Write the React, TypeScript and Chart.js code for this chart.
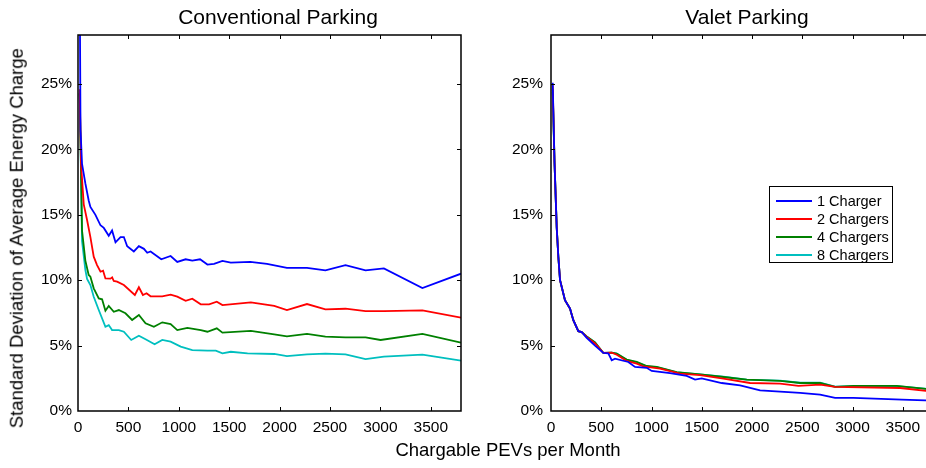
import React, { useEffect, useRef } from "react";
import { Chart, registerables } from "chart.js";

Chart.register(...registerables);

// ---------- data ----------
const xTicks = [0, 500, 1000, 1500, 2000, 2500, 3000, 3500];
const yTicks = [0, 5, 10, 15, 20, 25];
const xMax = 3800;
const yMax = 28.75;

const seriesNames = ["1 Charger", "2 Chargers", "4 Chargers", "8 Chargers"];
const seriesColors = ["#0000ff", "#ff0000", "#008000", "#00bfbf"];

const panelTitles = ["Conventional Parking", "Valet Parking"];
const xAxisLabel = "Chargable PEVs per Month";
const yAxisLabel = "Standard Deviation of Average Energy Charge";

// Conventional parking (x: PEVs per month, y: %)
const convOne: [number, number][] = [
  [17, 33], [25, 21.5], [40, 18.9], [73, 17.4], [106, 16.1], [123, 15.6], [173, 15.0], [223, 14.2],
  [256, 14.0], [305, 13.4], [338, 13.8], [372, 12.9], [422, 13.3], [455, 13.3], [488, 12.6],
  [554, 12.2], [604, 12.6], [654, 12.4], [687, 12.1], [720, 12.2], [826, 11.6], [919, 11.85],
  [985, 11.4], [1068, 11.6], [1134, 11.5], [1211, 11.6], [1284, 11.2], [1350, 11.25], [1433, 11.47],
  [1516, 11.34], [1709, 11.4], [1875, 11.25], [2073, 10.95], [2272, 10.95], [2455, 10.75],
  [2654, 11.15], [2853, 10.75], [3035, 10.9], [3417, 9.4], [3800, 10.5],
];
const convTwo: [number, number][] = [
  [17, 24.6], [30, 18.9], [57, 15.8], [90, 14.6], [123, 13.3], [156, 11.8], [189, 11.16],
  [223, 10.65], [249, 10.73], [272, 10.14], [322, 10.12], [339, 10.22], [355, 9.94], [388, 9.89],
  [455, 9.63], [564, 8.87], [604, 9.46], [644, 8.87], [680, 9.0], [720, 8.77], [836, 8.77],
  [919, 8.9], [985, 8.74], [1068, 8.43], [1134, 8.59], [1218, 8.16], [1301, 8.16], [1377, 8.36],
  [1433, 8.1], [1715, 8.31], [1947, 8.03], [2073, 7.72], [2272, 8.18], [2455, 7.77], [2654, 7.82],
  [2853, 7.64], [3035, 7.64], [3417, 7.7], [3800, 7.14],
];
const convFour: [number, number][] = [
  [17, 24.3], [40, 13.8], [73, 11.5], [106, 10.4], [123, 10.27], [156, 9.38], [206, 8.61],
  [239, 8.54], [272, 7.67], [305, 8.03], [355, 7.59], [405, 7.72], [471, 7.47], [537, 6.96],
  [604, 7.34], [670, 6.7], [753, 6.44], [836, 6.78], [919, 6.65], [985, 6.19], [1085, 6.35],
  [1218, 6.19], [1284, 6.06], [1377, 6.32], [1433, 5.99], [1715, 6.12], [1947, 5.86],
  [2073, 5.71], [2272, 5.89], [2455, 5.68], [2654, 5.63], [2853, 5.63], [3002, 5.43],
  [3417, 5.89], [3800, 5.22],
];
const convEight: [number, number][] = [
  [17, 24.3], [40, 13.0], [73, 10.8], [90, 10.1], [123, 9.63], [156, 8.74], [206, 7.72],
  [272, 6.44], [305, 6.57], [338, 6.19], [405, 6.19], [455, 6.06], [528, 5.43], [604, 5.76],
  [670, 5.48], [760, 5.1], [836, 5.43], [919, 5.3], [1019, 4.92], [1134, 4.66], [1284, 4.61],
  [1367, 4.61], [1433, 4.41], [1516, 4.53], [1682, 4.41], [1947, 4.36], [2073, 4.2], [2272, 4.33],
  [2455, 4.38], [2654, 4.33], [2853, 3.97], [3035, 4.15], [3417, 4.31], [3800, 3.85],
];

// Valet parking
const valetOne: [number, number][] = [
  [17, 25.1], [35, 19], [57, 14], [73, 11.8], [90, 10.0], [139, 8.47], [189, 7.83], [222, 6.94],
  [272, 6.1], [305, 6.04], [355, 5.6], [438, 5.0], [521, 4.44], [570, 4.4], [604, 3.88],
  [637, 4.0], [769, 3.75], [836, 3.37], [952, 3.3], [1002, 3.06], [1184, 2.9], [1350, 2.68],
  [1433, 2.4], [1499, 2.5], [1698, 2.14], [1881, 1.96], [2080, 1.58], [2478, 1.38], [2677, 1.25],
  [2826, 1.0], [3008, 1.0], [3490, 0.87], [3800, 0.8],
];
const valetTwo: [number, number][] = [
  [17, 24.9], [35, 19], [57, 14], [73, 11.8], [90, 10.0], [139, 8.47], [189, 7.83], [222, 6.94],
  [272, 6.1], [305, 6.04], [355, 5.66], [438, 5.16], [521, 4.44], [604, 4.46], [654, 4.3],
  [753, 3.83], [853, 3.62], [919, 3.42], [1085, 3.24], [1284, 2.86], [1483, 2.74], [1715, 2.48],
  [1980, 2.14], [2279, 2.09], [2461, 1.92], [2677, 2.01], [2826, 1.84], [3473, 1.76], [3800, 1.48],
];
const valetFour: [number, number][] = [
  [17, 24.6], [35, 19], [57, 14], [73, 11.8], [90, 10.0], [139, 8.47], [189, 7.83], [222, 6.94],
  [272, 6.1], [305, 6.04], [355, 5.7], [438, 5.25], [521, 4.44], [604, 4.46], [654, 4.39],
  [753, 3.93], [853, 3.75], [952, 3.44], [1052, 3.37], [1251, 2.98], [1483, 2.8], [1715, 2.6],
  [1947, 2.4], [2279, 2.3], [2478, 2.14], [2677, 2.14], [2826, 1.84], [3008, 1.92], [3440, 1.92],
  [3800, 1.64],
];
const valetEight: [number, number][] = [
  [17, 24.4], [35, 19], [57, 14], [73, 11.8], [90, 10.0], [139, 8.47], [189, 7.83], [222, 6.94],
  [272, 6.1], [305, 6.04], [355, 5.7], [438, 5.25], [521, 4.44], [604, 4.46], [654, 4.39],
  [753, 3.9], [853, 3.72], [952, 3.42], [1052, 3.36], [1251, 2.96], [1483, 2.8], [1715, 2.62],
  [1947, 2.4], [2279, 2.32], [2478, 2.16], [2677, 2.16], [2826, 1.86], [3008, 1.9], [3440, 1.9],
  [3800, 1.66],
];

const convSeries = [convOne, convTwo, convFour, convEight];
const valetSeries = [valetOne, valetTwo, valetFour, valetEight];

// ---------- styling ----------
const FONT = "'Liberation Sans', Arial, Helvetica, sans-serif";

const frameTicksPlugin = {
  id: "frameTicks",
  afterDatasetsDraw(chart: any) {
    const { ctx, chartArea } = chart;
    const { left, right, top, bottom } = chartArea;
    const xs = chart.scales.x;
    const ys = chart.scales.y;
    const tl = 4;
    ctx.save();
    ctx.strokeStyle = "#000";
    ctx.lineWidth = 1.5;
    ctx.beginPath();
    ctx.rect(left, top, right - left, bottom - top);
    ctx.stroke();
    ctx.lineWidth = 1;
    ctx.beginPath();
    for (const v of xTicks) {
      if (v === 0) continue;
      const px = Math.round(xs.getPixelForValue(v)) + 0.5;
      ctx.moveTo(px, bottom);
      ctx.lineTo(px, bottom - tl);
      ctx.moveTo(px, top);
      ctx.lineTo(px, top + tl);
    }
    for (const v of yTicks) {
      if (v === 0) continue;
      const py = Math.round(ys.getPixelForValue(v)) + 0.5;
      ctx.moveTo(left, py);
      ctx.lineTo(left + tl, py);
      ctx.moveTo(right, py);
      ctx.lineTo(right - tl, py);
    }
    ctx.stroke();
    ctx.restore();
  },
};

function makeConfig(series: [number, number][][], yAxisWidth: number, padRight: number, yPad: number): any {
  return {
    type: "line",
    data: {
      datasets: series.map((pts, i) => ({
        label: seriesNames[i],
        data: pts.map(([x, y]) => ({ x, y })),
        borderColor: seriesColors[i],
        backgroundColor: seriesColors[i],
        borderWidth: 1.8,
        pointRadius: 0,
        tension: 0,
        fill: false,
      })),
    },
    options: {
      animation: false,
      responsive: false,
      maintainAspectRatio: false,
      layout: { padding: { left: 0, right: padRight, top: 35, bottom: 0 } },
      plugins: {
        legend: { display: false },
        tooltip: { enabled: false },
        title: { display: false },
      },
      scales: {
        x: {
          type: "linear",
          min: 0,
          max: xMax,
          grid: { display: false, drawTicks: false },
          border: { display: false },
          ticks: {
            padding: 7,
            color: "#000",
            font: { family: FONT, size: 15.5 },
            maxRotation: 0,
            autoSkip: false,
            callback: (v: any) => String(v),
          },
          afterBuildTicks: (s: any) => {
            s.ticks = xTicks.map((v) => ({ value: v }));
          },
          afterFit: (s: any) => {
            s.height = 57;
          },
        },
        y: {
          type: "linear",
          min: 0,
          max: yMax,
          grid: { display: false, drawTicks: false },
          border: { display: false },
          ticks: {
            padding: yPad,
            color: "#000",
            font: { family: FONT, size: 15.5 },
            callback: (v: any) => `${v}%`,
          },
          afterBuildTicks: (s: any) => {
            s.ticks = yTicks.map((v) => ({ value: v }));
          },
          afterFit: (s: any) => {
            s.width = yAxisWidth;
          },
        },
      },
    },
    plugins: [frameTicksPlugin],
  };
}

export default function App() {
  const leftRef = useRef<HTMLCanvasElement>(null);
  const rightRef = useRef<HTMLCanvasElement>(null);

  useEffect(() => {
    const c1 = new Chart(leftRef.current as HTMLCanvasElement, makeConfig(convSeries, 78, 19, 6));
    const c2 = new Chart(rightRef.current as HTMLCanvasElement, makeConfig(valetSeries, 71, 7, 8));
    return () => {
      c1.destroy();
      c2.destroy();
    };
  }, []);

  const titleStyle = (cx: number): React.CSSProperties => ({
    position: "absolute",
    left: cx - 200,
    top: 6,
    width: 400,
    textAlign: "center",
    fontFamily: FONT,
    fontSize: 21,
    lineHeight: "21px",
    color: "#000",
    whiteSpace: "nowrap",
  });

  return (
    <div
      style={{
        position: "absolute",
        left: 0,
        top: 0,
        width: 926,
        height: 468,
        overflow: "hidden",
        background: "#fff",
      }}
    >
      <canvas
        ref={leftRef}
        width={480}
        height={468}
        style={{ position: "absolute", left: 0, top: 0, width: 480, height: 468, display: "block" }}
      />
      <canvas
        ref={rightRef}
        width={460}
        height={468}
        style={{ position: "absolute", left: 480, top: 0, width: 460, height: 468, display: "block" }}
      />
      <div style={titleStyle(278)}>{panelTitles[0]}</div>
      <div style={titleStyle(747)}>{panelTitles[1]}</div>
      <div
        style={{
          position: "absolute",
          left: 508 - 250,
          top: 441,
          width: 500,
          textAlign: "center",
          fontFamily: FONT,
          fontSize: 18.5,
          lineHeight: "18.5px",
          color: "#000",
          whiteSpace: "nowrap",
        }}
      >
        {xAxisLabel}
      </div>
      <div
        style={{
          position: "absolute",
          left: 17 - 220,
          top: 238 - 9.25,
          width: 440,
          height: 18.5,
          textAlign: "center",
          fontFamily: FONT,
          fontSize: 18.5,
          lineHeight: "18.5px",
          color: "#000",
          whiteSpace: "nowrap",
          transform: "rotate(-90deg)",
          transformOrigin: "50% 50%",
        }}
      >
        {yAxisLabel}
      </div>
      <div
        style={{
          position: "absolute",
          left: 769,
          top: 186,
          width: 124,
          height: 77,
          boxSizing: "border-box",
          border: "1.5px solid #000",
          background: "#fff",
        }}
      >
        {seriesNames.map((name, i) => (
          <div
            key={name}
            style={{
              position: "absolute",
              left: 6,
              top: 4.5 + i * 18,
              height: 18,
              display: "flex",
              alignItems: "center",
              fontFamily: FONT,
              fontSize: 14.5,
              color: "#000",
              whiteSpace: "nowrap",
            }}
          >
            <span
              style={{
                display: "inline-block",
                width: 36,
                height: 2,
                background: seriesColors[i],
                marginRight: 5,
              }}
            />
            {name}
          </div>
        ))}
      </div>
    </div>
  );
}
